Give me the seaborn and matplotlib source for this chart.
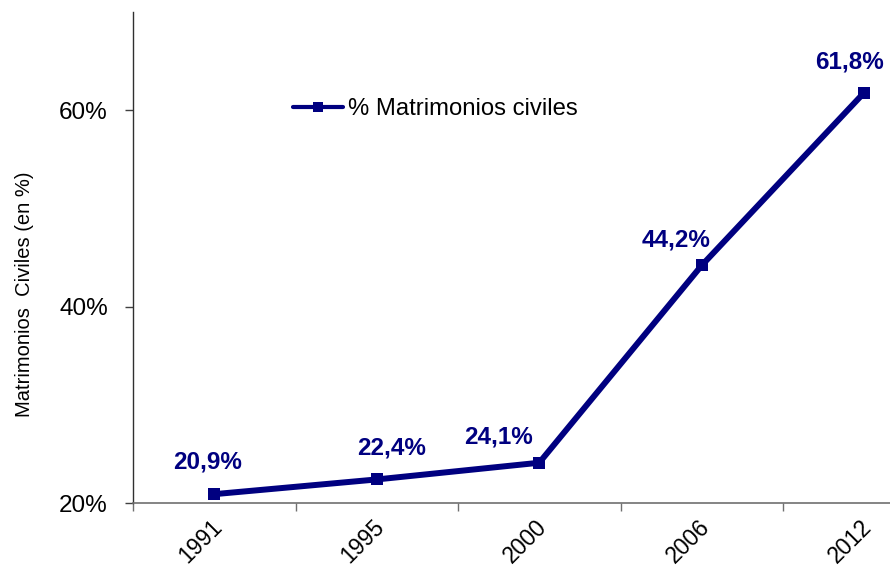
import matplotlib
matplotlib.use("Agg")
import matplotlib.pyplot as plt
import matplotlib.transforms as mtransforms
import pandas as pd
import seaborn as sns

# Datos
anios = ["1991", "1995", "2000", "2006", "2012"]
pct_civiles = [20.9, 22.4, 24.1, 44.2, 61.8]
etiquetas = ["20,9%", "22,4%", "24,1%", "44,2%", "61,8%"]
y_ticks = [20, 40, 60]

# Desplazamiento manual de las etiquetas (px), como en el original
offsets = [(-7, 32), (15, 31), (-41, 26), (-26, 25), (-15, 31)]

AZUL = "#000080"

sns.set_theme(style="white")
plt.rcParams["font.family"] = ["Liberation Sans", "DejaVu Sans"]
plt.rcParams["text.color"] = "black"
plt.rcParams["xtick.color"] = "black"
plt.rcParams["ytick.color"] = "black"
plt.rcParams["axes.labelcolor"] = "black"

df = pd.DataFrame({"anio": anios, "pct": pct_civiles})

fig = plt.figure(figsize=(8.9, 5.69), dpi=100)
ax = fig.add_axes([133 / 890, 66 / 569, 812.5 / 890, 491 / 569])

sns.lineplot(
    data=df, x="anio", y="pct", ax=ax, color=AZUL, linewidth=4.3,
    marker="s", markersize=8.5, markeredgewidth=0, label="% Matrimonios civiles",
)

for i, (val, txt) in enumerate(zip(pct_civiles, etiquetas)):
    dx, dy = offsets[i]
    ax.annotate(txt, (i, val), xytext=(dx, dy), textcoords="offset pixels",
                ha="center", va="center", color=AZUL, fontsize=17.5,
                fontweight="bold")

ax.set_xlim(-0.5, 4.5)
ax.set_ylim(20, 70)
ax.set_yticks(y_ticks)
ax.set_yticklabels([f"{v}%" for v in y_ticks], fontsize=17.5)
ax.set_xticks(range(len(anios)))
ax.set_xticklabels(anios, fontsize=16.5, rotation=45, ha="right",
                   rotation_mode="anchor")
ax.set_xticks([i - 0.5 for i in range(len(anios))], minor=True)
ax.tick_params(axis="x", which="major", length=0, pad=9)
ax.tick_params(axis="x", which="minor", length=6, width=1, color="#707070",
               direction="out", bottom=True)
ax.tick_params(axis="y", length=6, width=1, color="#404040", direction="out",
               left=True, pad=12)

# pequeño ajuste para que el texto rotado quede bajo el punto
shift = mtransforms.ScaledTranslation(-4 / 100, 0, fig.dpi_scale_trans)
for lab in ax.get_xticklabels():
    lab.set_transform(lab.get_transform() + shift)

ax.set_xlabel("")
ax.set_ylabel("Matrimonios  Civiles (en %)", fontsize=14.5)
ax.yaxis.set_label_coords(-0.122, 0.426)

ax.spines["top"].set_visible(False)
ax.spines["right"].set_visible(False)
ax.spines["left"].set_color("#303030")
ax.spines["bottom"].set_color("#707070")
ax.spines["left"].set_linewidth(1)
ax.spines["bottom"].set_linewidth(1.2)

leg = ax.legend(loc="center left", bbox_to_anchor=(0.197, 0.802), frameon=False,
                fontsize=17.2, handlelength=2.1, handletextpad=0.2,
                borderpad=0, borderaxespad=0)
for h in leg.legend_handles:
    h.set_linewidth(3)
    h.set_markersize(7)

fig.savefig("out.png", dpi=100)
